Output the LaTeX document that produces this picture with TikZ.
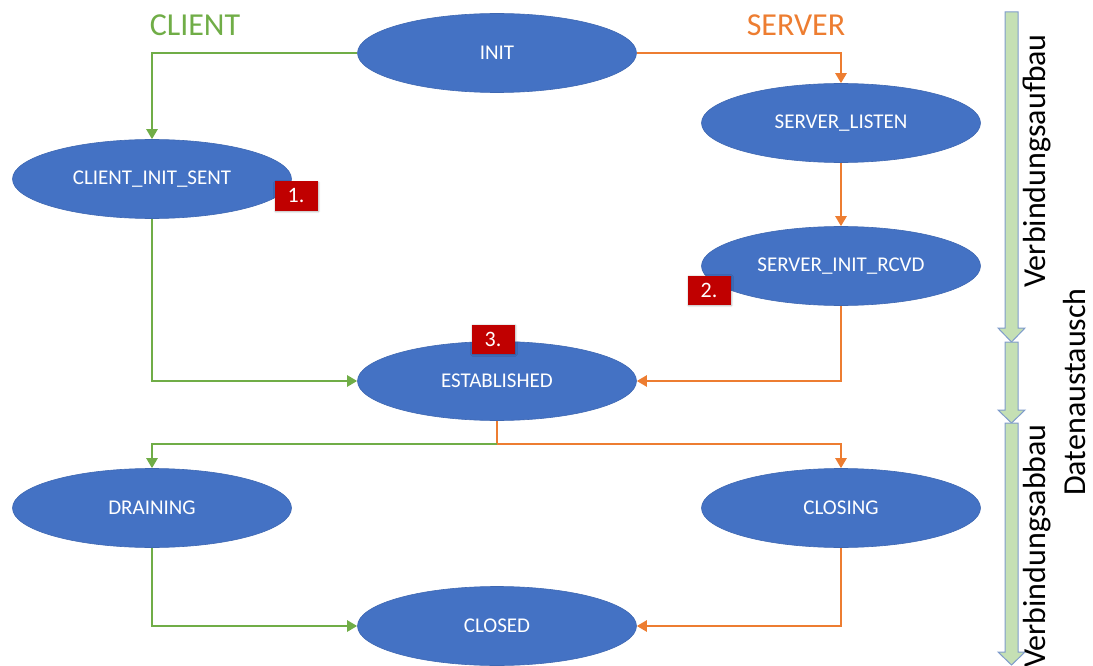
\documentclass[tikz,border=0pt]{standalone}
\usepackage{fontspec}
\setmainfont{Carlito}
\usetikzlibrary{arrows.meta,shadows.blur,shapes.geometric}

\definecolor{stateblue}{HTML}{4472C4}
\definecolor{stateedge}{HTML}{3F68B2}
\definecolor{clientgreen}{HTML}{70AD47}
\definecolor{serverorange}{HTML}{ED7D31}
\definecolor{badgered}{HTML}{C00000}
\definecolor{phasefill}{HTML}{C5E0B4}
\definecolor{phaseedge}{HTML}{7F9CCB}

\tikzset{
  state/.style={ellipse, fill=stateblue, draw=stateedge, line width=0.6pt,
    minimum width=279pt, minimum height=79pt, inner sep=0pt,
    text=white, font=\fontsize{21}{24}\selectfont},
  badge/.style={rectangle, fill=badgered, minimum width=43pt, minimum height=29pt,
    inner sep=0pt, text=white, font=\fontsize{22}{24}\selectfont,
    blur shadow={shadow xshift=1pt, shadow yshift=-1pt, shadow blur steps=4, shadow opacity=35}},
  flow/.style={line width=2.4pt, -{Triangle[length=10pt,width=11pt]}},
  cli/.style={flow, draw=clientgreen},
  srv/.style={flow, draw=serverorange},
  phase/.style={fill=phasefill, draw=phaseedge, line width=1pt, line join=miter},
  phaselabel/.style={rotate=90, font=\fontsize{32}{36}\selectfont, inner sep=0pt}
}

\begin{document}
\begin{tikzpicture}[x=1pt, y=-1pt]
\useasboundingbox (0,0) rectangle (1093,666);

% states
\node[state] (init)   at (497,53)  {INIT};
\node[state] (cis)    at (152,179) {CLIENT\_INIT\_SENT};
\node[state] (listen) at (841,123) {SERVER\_LISTEN};
\node[state] (rcvd)   at (841,266) {SERVER\_INIT\_RCVD};
\node[state] (est)    at (497,381) {ESTABLISHED};
\node[state] (drain)  at (152,508) {DRAINING};
\node[state] (closing) at (841,508) {CLOSING};
\node[state] (closed) at (497,626) {CLOSED};

% role headings
\node[text=clientgreen, font=\fontsize{32}{36}\selectfont] (client) at (195,25) {CLIENT};
\node[text=serverorange, font=\fontsize{32}{36}\selectfont] (server) at (796,25) {SERVER};

% transitions
\draw[cli] (init.west) -| (cis.north);
\draw[srv] (init.east) -| (listen.north);
\draw[srv] (listen.south) -- (rcvd.north);
\draw[cli] (cis.south) |- (est.west);
\draw[srv] (rcvd.south) |- (est.east);
\coordinate (split) at (497,444);
\draw[line width=2.4pt, serverorange] (est.south) -- (split);
\draw[cli] (split) -| (drain.north);
\draw[srv] (split) -| (closing.north);
\draw[cli] (drain.south) |- (closed.west);
\draw[srv] (closing.south) |- (closed.east);

% step markers
\node[badge] (b1) at (296,196) {1.};
\node[badge] (b2) at (709,290) {2.};
\node[badge] (b3) at (493,339) {3.};

% phase arrows
\draw[phase] (1005,12) -- (1018,12) -- (1018,328) -- (1025,328) -- (1011.5,342)
  -- (998,328) -- (1005,328) -- cycle;
\draw[phase] (1005,342) -- (1018,342) -- (1018,410) -- (1025,410) -- (1011.5,423)
  -- (998,410) -- (1005,410) -- cycle;
\draw[phase] (1005,423) -- (1018,423) -- (1018,652) -- (1025,652) -- (1011.5,665)
  -- (998,652) -- (1005,652) -- cycle;

\node[phaselabel] (p1) at (1037,161) {Verbindungsaufbau};
\node[phaselabel] (p2) at (1074,392) {Datenaustausch};
\node[phaselabel] (p3) at (1037,546) {Verbindungsabbau};
\end{tikzpicture}
\end{document}
